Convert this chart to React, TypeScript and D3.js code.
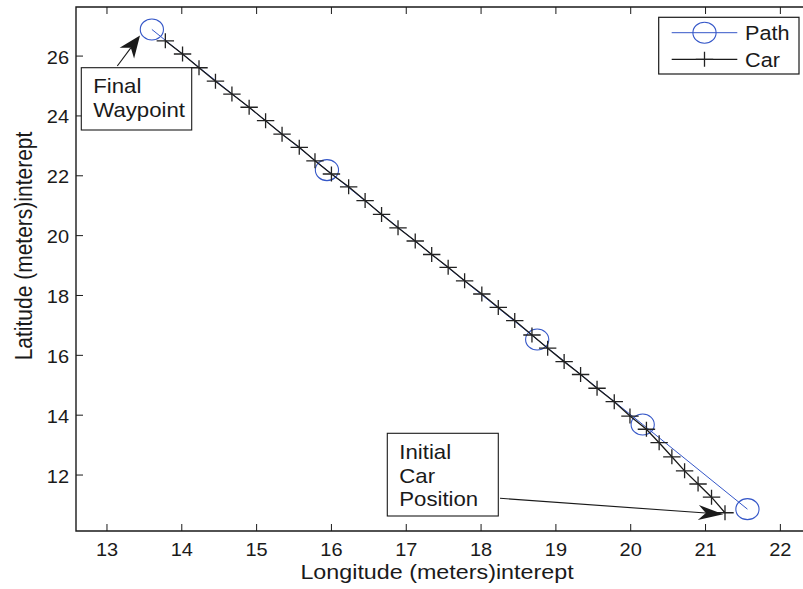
import React, { useEffect, useRef } from 'react';
import * as d3 from 'd3';

// waypoints of the planned path (blue circles)
const pathLon = [21.56, 20.16, 18.75, 15.94, 13.6];
const pathLat = [10.86, 13.69, 16.53, 22.19, 26.89];

// car track, from the initial position to the final one
const carLon = [
  21.26, 21.08, 20.9, 20.72, 20.55, 20.38, 20.21, 19.99, 19.78, 19.55, 19.33, 19.11,
  18.89, 18.68, 18.45, 18.23, 18.01, 17.78, 17.56, 17.34, 17.12, 16.89, 16.67, 16.45,
  16.23, 16.0, 15.78, 15.57, 15.34, 15.12, 14.9, 14.67, 14.45, 14.23, 14.01, 13.78,
];
const carLat = [
  10.74, 11.26, 11.7, 12.14, 12.61, 13.08, 13.53, 13.97, 14.45, 14.9, 15.36, 15.79,
  16.24, 16.68, 17.16, 17.6, 18.05, 18.49, 18.94, 19.37, 19.82, 20.26, 20.71, 21.17,
  21.63, 22.06, 22.5, 22.95, 23.39, 23.84, 24.29, 24.73, 25.16, 25.61, 26.07, 26.51,
];

const xTicks = [13, 14, 15, 16, 17, 18, 19, 20, 21, 22];
const yTicks = [12, 14, 16, 18, 20, 22, 24, 26];

const xLabel = 'Longitude (meters)interept';
const yLabel = 'Latitude (meters)interept';
const legendNames = ['Path', 'Car'];
const noteFinal = ['Final', 'Waypoint'];
const noteInitial = ['Initial', 'Car', 'Position'];

const FONT = '"Liberation Sans", Arial, Helvetica, sans-serif';
const SX = 1.11; // the original figure is a little wider than tall
const BLUE = '#3557c8';
const INK = '#1a1a1a';

export default function App() {
  const svgRef = useRef<SVGSVGElement>(null);

  useEffect(() => {
    if (!svgRef.current) return;
    draw();
  }, []);

  const draw = () => {
    const svg = d3.select(svgRef.current);
    svg.selectAll('*').remove();

    const W = 803;
    const H = 589;
    const left = 76;
    const top = 7;
    const bottom = 531;
    const right = 826; // box runs past the picture edge

    svg.attr('width', W).attr('height', H);
    svg.append('rect').attr('width', W).attr('height', H).attr('fill', '#fff');

    const x = d3.scaleLinear().domain([12.586, 22.61]).range([left, right]);
    const y = d3.scaleLinear().domain([10.13, 27.64]).range([bottom, top]);

    const g = svg.append('g');

    const txt = (sel: any, tx: number, ty: number, s: string | number, size: number, anchor = 'start', rot = false) =>
      sel
        .append('text')
        .attr(
          'transform',
          rot ? `translate(${tx},${ty}) rotate(-90) scale(1,${SX})` : `translate(${tx},${ty}) scale(${SX},1)`
        )
        .attr('text-anchor', anchor)
        .style('font-family', FONT)
        .style('font-size', `${size}px`)
        .style('fill', INK)
        .text(s);

    // axes box (left, bottom, top)
    g.append('path')
      .attr('d', `M${right},${top}H${left}V${bottom}H${right}`)
      .attr('fill', 'none')
      .attr('stroke', INK)
      .attr('stroke-width', 1.4);

    // ticks point inward
    const tickLen = 7;
    xTicks.forEach((t) => {
      g.append('line')
        .attr('x1', x(t)).attr('x2', x(t))
        .attr('y1', bottom).attr('y2', bottom - tickLen)
        .attr('stroke', INK).attr('stroke-width', 1);
      g.append('line')
        .attr('x1', x(t)).attr('x2', x(t))
        .attr('y1', top).attr('y2', top + tickLen)
        .attr('stroke', INK).attr('stroke-width', 1);
      txt(g, x(t), bottom + 25, t, 18, 'middle');
    });
    yTicks.forEach((t) => {
      g.append('line')
        .attr('x1', left).attr('x2', left + tickLen)
        .attr('y1', y(t)).attr('y2', y(t))
        .attr('stroke', INK).attr('stroke-width', 1);
      txt(g, left - 7, y(t) + 7.5, t, 18, 'end');
    });

    // axis labels
    txt(g, 437, 579, xLabel, 21, 'middle');
    txt(g, 32, 246, yLabel, 21, 'middle', true);

    const pathPts = pathLon.map((v, i) => [v, pathLat[i]] as [number, number]);
    const carPts = carLon.map((v, i) => [v, carLat[i]] as [number, number]);

    const line = d3
      .line<[number, number]>()
      .x((d) => x(d[0]))
      .y((d) => y(d[1]));

    // planned path
    g.append('path')
      .datum(pathPts)
      .attr('fill', 'none')
      .attr('stroke', BLUE)
      .attr('stroke-width', 1)
      .attr('d', line);

    g.selectAll('.wp')
      .data(pathPts)
      .enter()
      .append('ellipse')
      .attr('class', 'wp')
      .attr('cx', (d) => x(d[0]))
      .attr('cy', (d) => y(d[1]))
      .attr('rx', 11.6)
      .attr('ry', 10.5)
      .attr('fill', 'none')
      .attr('stroke', BLUE)
      .attr('stroke-width', 1.1);

    // car track
    g.append('path')
      .datum(carPts)
      .attr('fill', 'none')
      .attr('stroke', INK)
      .attr('stroke-width', 1.3)
      .attr('d', line);

    const plus = (px: number, py: number, sel: any) => {
      sel.append('path')
        .attr('d', `M${px - 8.7},${py}H${px + 8.7}M${px},${py - 7.5}V${py + 7.5}`)
        .attr('stroke', '#222')
        .attr('stroke-width', 1.3)
        .attr('fill', 'none');
    };
    carPts.forEach((d) => plus(x(d[0]), y(d[1]), g));

    // legend
    const lg = g.append('g');
    lg.append('rect')
      .attr('x', 658.7).attr('y', 17.3)
      .attr('width', 140.3).attr('height', 56.7)
      .attr('fill', '#fff')
      .attr('stroke', INK)
      .attr('stroke-width', 1.2);
    const rows = [32.7, 59.3];
    legendNames.forEach((name, i) => {
      const ry = rows[i];
      lg.append('line')
        .attr('x1', 671.7).attr('x2', 737.3)
        .attr('y1', ry).attr('y2', ry)
        .attr('stroke', i === 0 ? BLUE : INK)
        .attr('stroke-width', i === 0 ? 1 : 1.3);
      if (i === 0) {
        lg.append('ellipse')
          .attr('cx', 704.5).attr('cy', ry)
          .attr('rx', 11.6).attr('ry', 10.5)
          .attr('fill', 'none')
          .attr('stroke', BLUE)
          .attr('stroke-width', 1.1);
      } else {
        plus(704.5, ry, lg);
      }
      txt(lg, 745, ry + 7.3, name, 19.5);
    });

    // annotations
    const arrow = (x0: number, y0: number, x1: number, y1: number, len: number, half: number) => {
      const dx = x1 - x0;
      const dy = y1 - y0;
      const d = Math.hypot(dx, dy);
      const ux = dx / d;
      const uy = dy / d;
      const nx = -uy;
      const ny = ux;
      const bx = x1 - len * ux;
      const by = y1 - len * uy;
      const kx = x1 - len * 0.7 * ux;
      const ky = y1 - len * 0.7 * uy;
      g.append('line')
        .attr('x1', x0).attr('y1', y0)
        .attr('x2', kx).attr('y2', ky)
        .attr('stroke', INK)
        .attr('stroke-width', 1.1);
      g.append('path')
        .attr('d', `M${x1},${y1}L${bx + half * nx},${by + half * ny}L${kx},${ky}L${bx - half * nx},${by - half * ny}Z`)
        .attr('fill', INK);
    };

    const noteBox = (bx: number, by: number, bw: number, bh: number, lines: string[], tx: number, ty: number, gap: number) => {
      g.append('rect')
        .attr('x', bx).attr('y', by)
        .attr('width', bw).attr('height', bh)
        .attr('fill', '#fff')
        .attr('stroke', INK)
        .attr('stroke-width', 1.1);
      lines.forEach((s, i) => txt(g, tx, ty + i * gap, s, 20));
    };

    noteBox(81.3, 67.7, 110.4, 62.3, noteFinal, 93.3, 92.7, 24);
    arrow(117.3, 66, 140, 35.5, 22, 9);

    noteBox(387.3, 433.3, 111, 82.7, noteInitial, 399.3, 459.3, 23.4);
    arrow(500, 498.3, 723.3, 514.3, 25, 7.5);
  };

  return (
    <div style={{ position: 'absolute', left: 0, top: 0 }}>
      <svg ref={svgRef} style={{ display: 'block' }}></svg>
    </div>
  );
}
